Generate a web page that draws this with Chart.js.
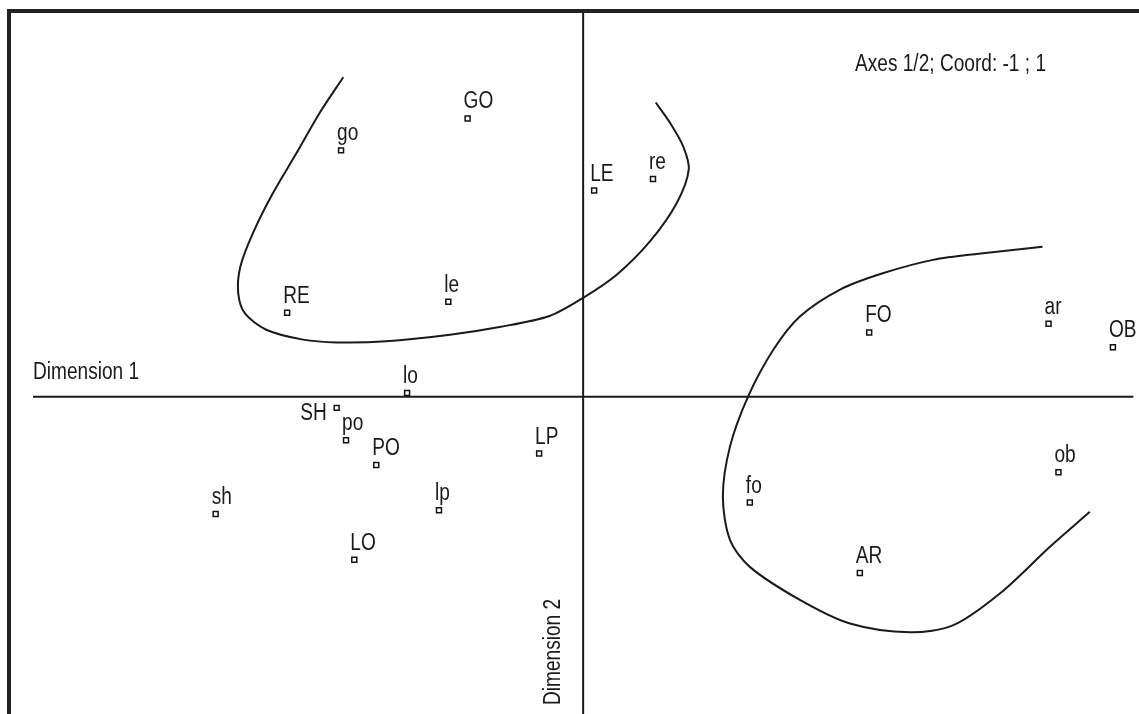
<!DOCTYPE html>
<html>
<head>
<meta charset="utf-8">
<title>Axes 1/2</title>
<script src="https://cdn.jsdelivr.net/npm/chart.js@4.4.1/dist/chart.umd.min.js"></script>
<style>
    html, body { margin: 0; padding: 0; background: #fff; overflow: hidden; }
    #chartBox { width: 1139px; height: 714px; position: relative; }
</style>
</head>
<body>
<div id="chartBox"><canvas id="caChart"></canvas></div>
<script>
// Point labels and their coordinates on dimension 1 / dimension 2
const pointLabels = ['go', 'GO', 'LE', 're', 'le', 'RE', 'lo', 'SH', 'po', 'PO',
                     'LP', 'sh', 'lp', 'LO', 'FO', 'fo', 'AR', 'ar', 'OB', 'ob'];
const dim1 = [-0.440, -0.210, 0.020, 0.127, -0.245, -0.538, -0.320, -0.448, -0.431, -0.376,
              -0.080, -0.668, -0.262, -0.416, 0.520, 0.303, 0.503, 0.846, 0.963, 0.864];
const dim2 = [0.448, 0.506, 0.375, 0.396, 0.173, 0.153, 0.007, -0.020, -0.079, -0.124,
              -0.103, -0.213, -0.206, -0.296, 0.117, -0.192, -0.320, 0.133, 0.090, -0.137];

// Hand drawn group outlines
const curve1X = [-0.436, -0.479, -0.521, -0.564, -0.600, -0.623, -0.627, -0.615, -0.576, -0.509,
                 -0.448, -0.358, -0.242, -0.152, -0.061, 0.000, 0.061, 0.121, 0.170, 0.192,
                 0.182, 0.158, 0.132];
const curve1Y = [0.581, 0.516, 0.443, 0.370, 0.298, 0.237, 0.189, 0.152, 0.122, 0.104,
                 0.099, 0.101, 0.113, 0.127, 0.147, 0.180, 0.222, 0.282, 0.352, 0.413,
                 0.455, 0.498, 0.535];
const curve2X = [0.835, 0.727, 0.636, 0.546, 0.467, 0.394, 0.346, 0.300, 0.267, 0.254,
                 0.267, 0.303, 0.394, 0.485, 0.594, 0.673, 0.758, 0.849, 0.921];
const curve2Y = [0.273, 0.261, 0.249, 0.225, 0.195, 0.146, 0.086, 0.001, -0.090, -0.181,
                 -0.260, -0.309, -0.369, -0.412, -0.428, -0.415, -0.357, -0.272, -0.209];

// Axis lines span the coordinate range -1 ; 1
const coordRange = [-1, 1];

const ink = '#1a1a1a';
const labelFont = '23px "Liberation Sans", Arial, sans-serif';
const squeeze = 0.83; // narrow the glyphs like the original screen font
const leftLabels = ['SH'];

function toXY(xs, ys) {
    return xs.map((x, i) => ({ x: x, y: ys[i] }));
}

// draw narrowed text, anchored at (x, y)
function narrowText(ctx, text, x, y, align) {
    ctx.save();
    ctx.translate(x, y);
    ctx.scale(squeeze, 1);
    ctx.textAlign = align || 'left';
    ctx.fillText(text, 0, 0);
    ctx.restore();
}

const textPlugin = {
    id: 'caText',
    afterDatasetsDraw(chart) {
        const ctx = chart.ctx;
        const area = chart.chartArea;
        const xs = chart.scales.x;
        const ys = chart.scales.y;
        ctx.save();

        // frame on top and left
        ctx.strokeStyle = '#222';
        ctx.lineWidth = 4;
        ctx.beginPath();
        ctx.moveTo(area.left, area.bottom + 5);
        ctx.lineTo(area.left, area.top);
        ctx.lineTo(area.right + 5, area.top);
        ctx.stroke();

        ctx.fillStyle = ink;
        ctx.font = labelFont;
        ctx.textBaseline = 'alphabetic';

        // point labels
        const meta = chart.getDatasetMeta(0);
        meta.data.forEach((pt, i) => {
            const name = pointLabels[i];
            if (leftLabels.includes(name)) {
                narrowText(ctx, name, pt.x - 10, pt.y + 12, 'right');
            } else {
                narrowText(ctx, name, pt.x - 4, pt.y - 10, 'left');
            }
        });

        // axis names
        narrowText(ctx, 'Dimension 1', xs.getPixelForValue(coordRange[0]), ys.getPixelForValue(0) - 18);

        ctx.save();
        ctx.translate(xs.getPixelForValue(0) - 23, area.bottom - 9);
        ctx.rotate(-Math.PI / 2);
        narrowText(ctx, 'Dimension 2', 0, 0);
        ctx.restore();

        narrowText(ctx, 'Axes 1/2; Coord: -1 ; 1', area.right - 284, area.top + 60);
        ctx.restore();
    }
};

const lineStyle = {
    type: 'line',
    borderColor: ink,
    borderWidth: 2,
    pointRadius: 0,
    fill: false
};

new Chart(document.getElementById('caChart'), {
    type: 'scatter',
    data: {
        datasets: [
            {
                label: 'points',
                data: toXY(dim1, dim2),
                pointStyle: 'rect',
                pointRadius: 3.5,
                borderWidth: 1.5,
                borderColor: '#111',
                backgroundColor: '#fff'
            },
            Object.assign({ label: 'group 1', data: toXY(curve1X, curve1Y), tension: 0.3 }, lineStyle),
            Object.assign({ label: 'group 2', data: toXY(curve2X, curve2Y), tension: 0.3 }, lineStyle),
            Object.assign({ label: 'dim 1', data: toXY(coordRange, [0, 0]), tension: 0 }, lineStyle),
            Object.assign({ label: 'dim 2', data: toXY([0, 0], coordRange), tension: 0 }, lineStyle)
        ]
    },
    options: {
        responsive: true,
        maintainAspectRatio: false,
        animation: false,
        layout: { autoPadding: false, padding: { left: 9, top: 11, right: 0, bottom: 0 } },
        plugins: {
            legend: { display: false },
            tooltip: { enabled: false },
            title: { display: false }
        },
        scales: {
            x: { type: 'linear', min: -1.0436, max: 1.0104, display: false },
            y: { type: 'linear', min: -0.5764, max: 0.7013, display: false }
        }
    },
    plugins: [textPlugin]
});
</script>
</body>
</html>
